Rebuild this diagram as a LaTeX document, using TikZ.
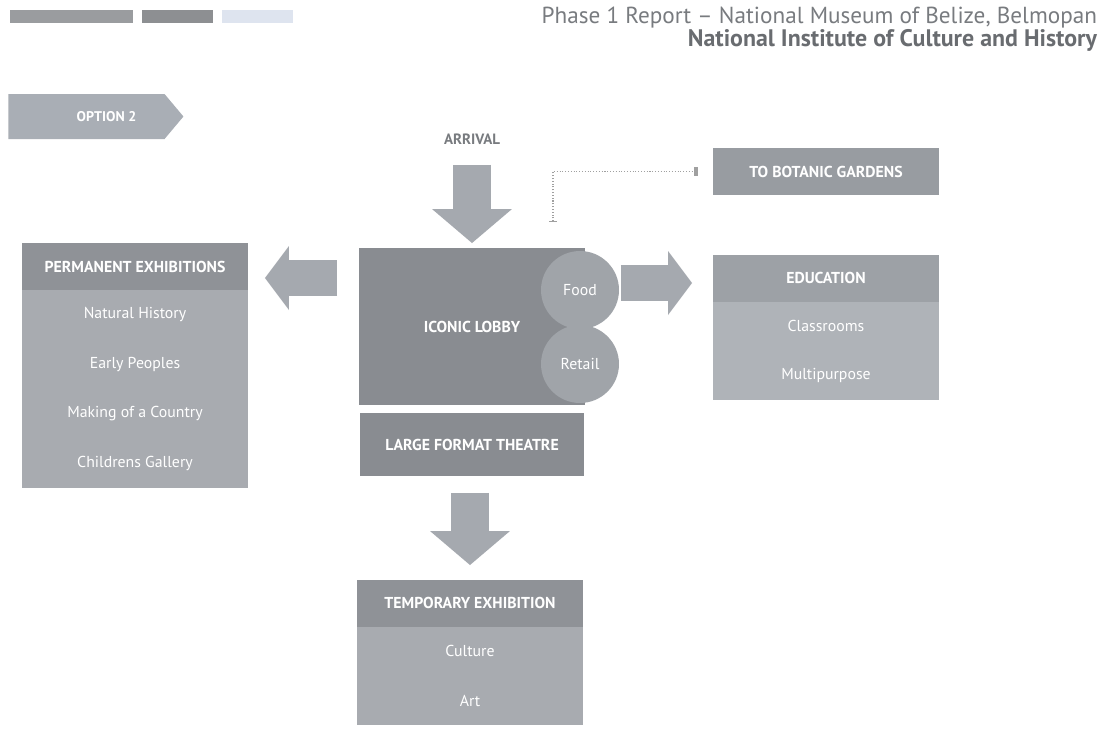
\documentclass[tikz,border=0pt]{standalone}
\usepackage{fontspec}
\setmainfont{PT Sans}
\usepackage{tikz}
\usetikzlibrary{shapes, shapes.symbols, arrows.meta, positioning, calc}

\definecolor{lobbygray}{RGB}{137,140,145}
\definecolor{headgray}{RGB}{143,146,151}
\definecolor{rowgray}{RGB}{168,171,176}
\definecolor{edhead}{RGB}{157,161,166}
\definecolor{edrow}{RGB}{175,179,184}
\definecolor{circlegray}{RGB}{160,164,169}
\definecolor{arrowgray}{RGB}{165,169,175}
\definecolor{tabgray}{RGB}{169,174,181}
\definecolor{gardengray}{RGB}{152,156,161}
\definecolor{bargray}{RGB}{154,156,159}
\definecolor{bardark}{RGB}{141,143,146}
\definecolor{barlight}{RGB}{222,228,239}
\definecolor{inkgray}{RGB}{120,123,127}
\definecolor{darkink}{RGB}{105,108,112}
\definecolor{linkgray}{RGB}{160,160,160}

\begin{document}
\begin{tikzpicture}[x=0.02cm, y=-0.02cm, node distance=0pt,
  every node/.style={inner sep=0pt, outer sep=0pt},
  boxtitle/.style={text=white, font=\bfseries\fontsize{9}{11}\selectfont},
  headband/.style={boxtitle, fill=headgray, minimum width=4.52cm, minimum height=0.94cm},
  itemrow/.style={text=white, font=\fontsize{9}{11}\selectfont, fill=rowgray, minimum width=4.52cm, minimum height=0.99cm},
  blockarrow/.style={arrowgray, line width=0.76cm, -{Triangle[length=0.68cm, width=1.6cm, line width=0pt]}},
  sidearrow/.style={arrowgray, line width=0.72cm, -{Triangle[length=0.48cm, width=1.28cm, line width=0pt]}},
  link/.style={draw=linkgray, densely dotted, line width=0.6pt}]

  \path[fill=white, use as bounding box] (0,0) rectangle (1110,752);

  % page header
  \fill[bargray] (10,10) rectangle (133,23);
  \fill[bardark] (142,10) rectangle (213,23);
  \fill[barlight] (222,10) rectangle (293,23);
  \node[anchor=base east, text=inkgray, font=\fontsize{13.2}{15}\selectfont] (report) at (1097,23) {Phase 1 Report – National Museum of Belize, Belmopan};
  \node[anchor=base east, text=darkink, font=\bfseries\fontsize{13.6}{16}\selectfont] (institute) at (1097,46) {National Institute of Culture and History};

  \node[signal, signal to=east, signal pointer angle=100, fill=tabgray, minimum width=3.5cm, minimum height=0.9cm, boxtitle, font=\bfseries\fontsize{8}{10}\selectfont] (option) at (86.5,116.5) {\hspace*{0.8cm}OPTION 2};

  % centre block
  \node[font=\bfseries\fontsize{8.5}{10}\selectfont, text=inkgray] (arrival) at (472,139) {ARRIVAL};
  \node[boxtitle, fill=lobbygray, minimum width=4.52cm, minimum height=3.14cm] (lobby) at (472,326.5) {ICONIC LOBBY};
  \node[boxtitle, fill=lobbygray, minimum width=4.48cm, minimum height=1.26cm, below=0.16cm of lobby] (theatre) {LARGE FORMAT THEATRE};
  \node[circle, fill=circlegray, minimum size=1.56cm, text=white, font=\fontsize{9}{11}\selectfont] (food) at (580,290) {Food};
  \node[circle, fill=circlegray, minimum size=1.56cm, text=white, font=\fontsize{9}{11}\selectfont] (retail) at (580,364) {Retail};

  % permanent exhibitions
  \node[headband] (permhead) at (135,266.5) {PERMANENT EXHIBITIONS};
  \node[itemrow, below=of permhead] (natural) {Natural History};
  \node[itemrow, below=of natural] (peoples) {Early Peoples};
  \node[itemrow, below=of peoples] (country) {Making of a Country};
  \node[itemrow, below=of country] (children) {Childrens Gallery};

  % education
  \node[headband, fill=edhead] (eduhead) at (826,278) {EDUCATION};
  \node[itemrow, fill=edrow, below=of eduhead] (classrooms) {Classrooms};
  \node[itemrow, fill=edrow, below=of classrooms] (multipurpose) {Multipurpose};

  % temporary exhibition
  \node[headband] (temphead) at (470,603) {TEMPORARY EXHIBITION};
  \node[itemrow, below=of temphead] (culture) {Culture};
  \node[itemrow, below=of culture] (art) {Art};

  \node[boxtitle, fill=gardengray, minimum width=4.54cm, minimum height=0.94cm] (botanic) at (826,171.5) {TO BOTANIC GARDENS};

  % arrows
  \draw[blockarrow, shorten <=0.41cm, shorten >=0.1cm] (arrival) -- (lobby);
  \draw[blockarrow, shorten <=0.34cm, shorten >=0.29cm] (theatre.south -| temphead.north) -- (temphead.north);
  \draw[sidearrow, shorten <=0.44cm, shorten >=0.34cm] (lobby.west |- 0,278) -- (permhead.east |- 0,278);
  \draw[sidearrow, shorten <=0.72cm, shorten >=0.42cm] (lobby.east |- 0,283) -- (eduhead.west |- 0,283);

  \coordinate (gardenlink) at (553,222);
  \draw[link, {Bar[width=4pt]}-{Rectangle[length=2pt, width=5pt]}, shorten >=0.3cm] (gardenlink) |- (botanic.west);
\end{tikzpicture}
\end{document}
